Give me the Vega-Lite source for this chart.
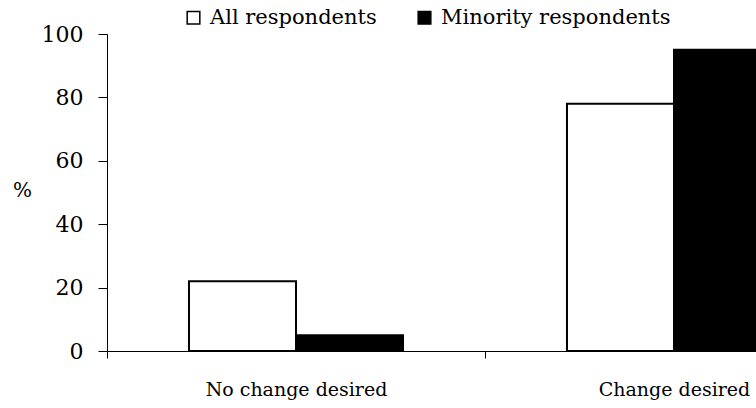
{
  "$schema": "https://vega.github.io/schema/vega-lite/v6.json",
  "width": 756,
  "height": 317,
  "autosize": "none",
  "padding": {"left": 107, "top": 34, "right": 0, "bottom": 57},
  "background": "white",
  "data": {
    "values": [
      {"response": "No change desired", "group": "All respondents", "percent": 22},
      {"response": "No change desired", "group": "Minority respondents", "percent": 5},
      {"response": "Change desired", "group": "All respondents", "percent": 78},
      {"response": "Change desired", "group": "Minority respondents", "percent": 95}
    ]
  },
  "mark": {"type": "bar", "stroke": "black", "strokeWidth": 2},
  "encoding": {
    "x": {
      "field": "response",
      "type": "nominal",
      "sort": ["No change desired", "Change desired"],
      "scale": {"paddingInner": 0, "paddingOuter": 0},
      "axis": {
        "title": null,
        "labelAngle": 0,
        "tickBand": "extent",
        "domainColor": "black",
        "tickColor": "black",
        "tickSize": 7,
        "labelFontSize": 19,
        "labelPadding": 22,
        "labelColor": "black",
        "labelLimit": 0,
        "labelFont": "DejaVu Serif"
      }
    },
    "xOffset": {
      "field": "group",
      "type": "nominal",
      "sort": ["All respondents", "Minority respondents"],
      "scale": {"paddingInner": 0, "paddingOuter": 0.766}
    },
    "y": {
      "field": "percent",
      "type": "quantitative",
      "scale": {"domain": [0, 100]},
      "axis": {
        "values": [0, 20, 40, 60, 80, 100],
        "grid": false,
        "title": "%",
        "titleAngle": 0,
        "titleX": -85,
        "titleY": 156,
        "titleAlign": "center",
        "titleBaseline": "middle",
        "titleFont": "DejaVu Serif",
        "titleFontSize": 20,
        "titleFontWeight": "normal",
        "titleColor": "black",
        "domainColor": "black",
        "tickColor": "black",
        "tickSize": 9,
        "labelFontSize": 22,
        "labelPadding": 15,
        "labelColor": "black",
        "labelFont": "DejaVu Serif"
      }
    },
    "fill": {
      "field": "group",
      "type": "nominal",
      "scale": {"domain": ["All respondents", "Minority respondents"], "range": ["white", "black"]},
      "legend": {
        "title": null,
        "orient": "none",
        "legendX": 76,
        "legendY": -27,
        "direction": "horizontal",
        "symbolType": "square",
        "symbolSize": 160,
        "symbolStrokeColor": "black",
        "symbolStrokeWidth": 1.5,
        "labelFontSize": 21,
        "labelFont": "DejaVu Serif",
        "labelColor": "black",
        "labelLimit": 0,
        "labelOffset": 6,
        "columnPadding": 37
      }
    }
  },
  "config": {"view": {"stroke": null}, "font": "DejaVu Serif"}
}
